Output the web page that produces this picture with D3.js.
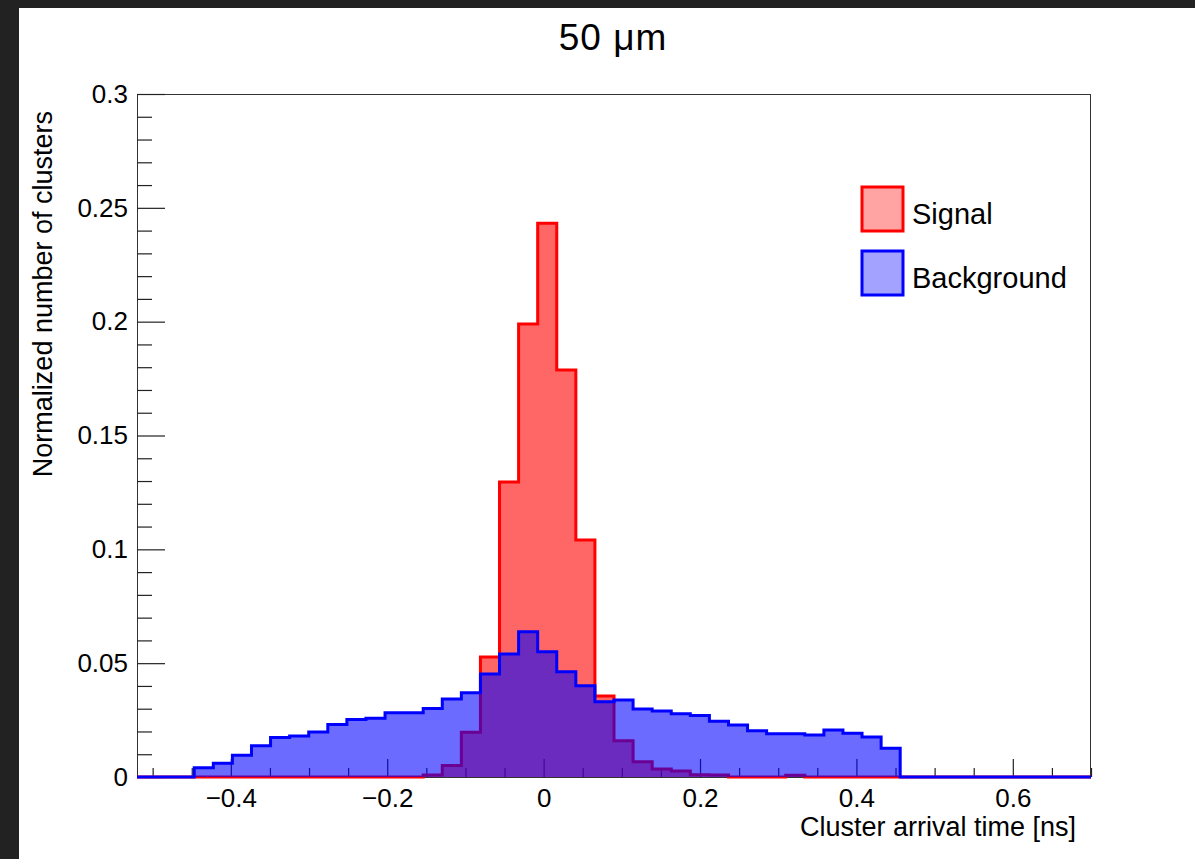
<!DOCTYPE html>
<html>
<head>
<meta charset="utf-8">
<script src="https://cdnjs.cloudflare.com/ajax/libs/d3/7.8.5/d3.min.js"></script>
<style>
  html, body { margin: 0; padding: 0; background: #222; }
  svg { display: block; }
  text { font-family: "Liberation Sans", Arial, Helvetica, sans-serif; fill: #000; }
</style>
</head>
<body>
<svg id="chart" width="1195" height="859"></svg>
<script>
// ---- data ----
const title = "50 \u03BCm";
const xTitle = "Cluster arrival time [ns]";
const yTitle = "Normalized number of clusters";
const xMin = -0.52, xMax = 0.70, nBins = 50;
const yMin = 0, yMax = 0.3;
const xMajorTicks = [-0.4, -0.2, 0, 0.2, 0.4, 0.6];
const xTickLabels = ["\u22120.4", "\u22120.2", "0", "0.2", "0.4", "0.6"];
const yMajorTicks = [0, 0.05, 0.1, 0.15, 0.2, 0.25, 0.3];
const yTickLabels = ["0", "0.05", "0.1", "0.15", "0.2", "0.25", "0.3"];
const seriesNames = ["Signal", "Background"];

const signal = [
  0, 0, 0, 0, 0, 0, 0, 0, 0, 0,
  0, 0, 0, 0, 0, 0.0009, 0.0050, 0.0197, 0.0527, 0.1296,
  0.1990, 0.2432, 0.1788, 0.1041, 0.0356, 0.0159, 0.0067, 0.0035, 0.0026, 0.0010,
  0.0009, 0, 0, 0, 0.0008, 0, 0, 0, 0, 0,
  0, 0, 0, 0, 0, 0, 0, 0, 0, 0
];
const background = [
  0, 0, 0, 0.0041, 0.0060, 0.0095, 0.0137, 0.0174, 0.0180, 0.0198,
  0.0231, 0.0253, 0.0258, 0.0282, 0.0282, 0.0301, 0.0343, 0.0370, 0.0452, 0.0540,
  0.0638, 0.0550, 0.0462, 0.0401, 0.0331, 0.0338, 0.0299, 0.0290, 0.0278, 0.0270,
  0.0245, 0.0228, 0.0203, 0.0190, 0.0190, 0.0184, 0.0206, 0.0192, 0.0176, 0.0126,
  0, 0, 0, 0, 0, 0, 0, 0, 0, 0
];

// ---- layout ----
const svg = d3.select("#chart");
const W = 1195, H = 859;
const frame = { left: 137, right: 1091, top: 94, bottom: 777 };

svg.append("rect").attr("x", 0).attr("y", 0).attr("width", W).attr("height", H).attr("fill", "#222");
svg.append("rect").attr("x", 19).attr("y", 8).attr("width", W - 19).attr("height", H - 8).attr("fill", "#fff");

const x = d3.scaleLinear().domain([xMin, xMax]).range([frame.left, frame.right]);
const y = d3.scaleLinear().domain([yMin, yMax]).range([frame.bottom, frame.top]);
const binW = (xMax - xMin) / nBins;

// frame
svg.append("rect")
  .attr("x", frame.left + 0.5).attr("y", frame.top + 0.5)
  .attr("width", frame.right - frame.left - 1).attr("height", frame.bottom - frame.top)
  .attr("fill", "none").attr("stroke", "#333").attr("stroke-width", 1);

// axes ticks (ROOT style, inside)
const xMinor = d3.range(-0.5, 0.7001, 0.05).filter(v => !xMajorTicks.some(m => Math.abs(m - v) < 1e-6));
const yMinor = d3.range(0, 0.3001, 0.01).filter(v => !yMajorTicks.some(m => Math.abs(m - v) < 1e-6));

const xAxisMajor = d3.axisBottom(x).tickValues(xMajorTicks).tickSize(-18).tickFormat((d, i) => xTickLabels[i]);
const xAxisMinor = d3.axisBottom(x).tickValues(xMinor).tickSize(-9).tickFormat("");
const yAxisMajor = d3.axisLeft(y).tickValues(yMajorTicks).tickSize(-28).tickFormat((d, i) => yTickLabels[i]);
const yAxisMinor = d3.axisLeft(y).tickValues(yMinor).tickSize(-15).tickFormat("");

function styleAxis(g) {
  g.select(".domain").remove();
  g.selectAll(".tick line").attr("stroke", "#222").attr("stroke-width", 1.2);
}

const gx1 = svg.append("g").attr("transform", `translate(0,${frame.bottom})`).call(xAxisMajor).call(styleAxis);
gx1.selectAll(".tick text").attr("font-size", 26).attr("fill", "#000")
   .attr("font-family", "Liberation Sans, Arial, sans-serif").attr("dy", "0.35em").attr("y", 21);
svg.append("g").attr("transform", `translate(0,${frame.bottom})`).call(xAxisMinor).call(styleAxis);

const gy1 = svg.append("g").attr("transform", `translate(${frame.left},0)`).call(yAxisMajor).call(styleAxis);
gy1.selectAll(".tick text").attr("font-size", 26).attr("fill", "#000")
   .attr("font-family", "Liberation Sans, Arial, sans-serif").attr("x", -9);
svg.append("g").attr("transform", `translate(${frame.left},0)`).call(yAxisMinor).call(styleAxis);

// histograms
function stepPath(vals) {
  const p = d3.path();
  p.moveTo(x(xMin), y(0));
  vals.forEach((v, i) => {
    const x0 = x(xMin + i * binW), x1 = x(xMin + (i + 1) * binW);
    p.lineTo(x0, y(v));
    p.lineTo(x1, y(v));
  });
  p.lineTo(x(xMax), y(0));
  return p.toString();
}
function fillPath(vals) {
  return stepPath(vals) + "Z";
}

const hists = [
  { vals: signal, color: "#ff0000", op: 0.6 },
  { vals: background, color: "#0000ff", op: 0.58 }
];
hists.forEach(h => {
  svg.append("path").attr("d", fillPath(h.vals)).attr("fill", h.color).attr("fill-opacity", h.op).attr("stroke", "none");
  svg.append("path").attr("d", stepPath(h.vals)).attr("fill", "none").attr("stroke", h.color)
    .attr("stroke-width", 3).attr("stroke-linejoin", "miter");
});

// titles
svg.append("text").attr("x", 613).attr("y", 50).attr("text-anchor", "middle")
  .attr("font-size", 37).attr("letter-spacing", 1).text(title);
svg.append("text").attr("x", 1076).attr("y", 836).attr("text-anchor", "end")
  .attr("font-size", 27).text(xTitle);
svg.append("text").attr("transform", "translate(52,111) rotate(-90)").attr("text-anchor", "end")
  .attr("font-size", 27).text(yTitle);

// legend
const legendColors = ["#ff0000", "#0000ff"];
const legendY = [187, 251];
seriesNames.forEach((name, i) => {
  svg.append("rect").attr("x", 862).attr("y", legendY[i]).attr("width", 41).attr("height", 44)
    .attr("fill", legendColors[i]).attr("fill-opacity", 0.36)
    .attr("stroke", legendColors[i]).attr("stroke-width", 3);
  svg.append("text").attr("x", 912).attr("y", legendY[i] + 27).attr("dy", "0.35em")
    .attr("font-size", 29).text(name);
});
</script>
</body>
</html>
